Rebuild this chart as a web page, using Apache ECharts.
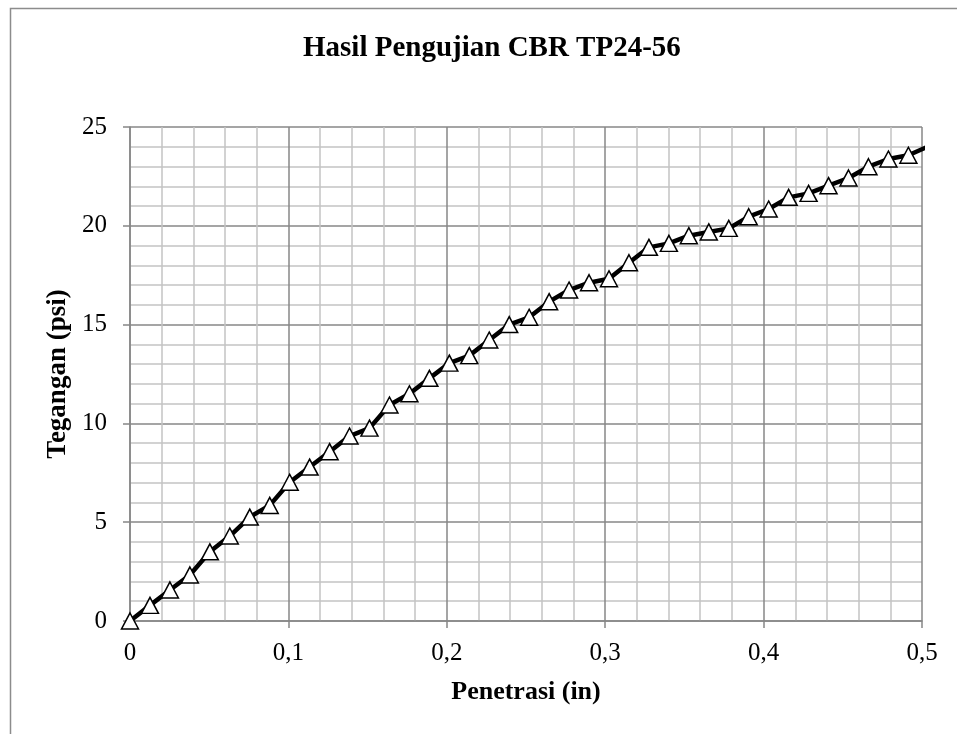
<!DOCTYPE html>
<html>
<head>
<meta charset="utf-8">
<script src="https://cdn.jsdelivr.net/npm/echarts@6/dist/echarts.min.js"></script>
<style>
html,body{margin:0;padding:0;background:#fff;}
#chart{width:957px;height:734px;}
</style>
</head>
<body>
<div id="chart"></div>
<script>
var chartTitle = 'Hasil Pengujian CBR TP24-56';
var xAxisTitle = 'Penetrasi (in)';
var yAxisTitle = 'Tegangan (psi)';

var penetrasi = [
  0, 0.0126, 0.0252, 0.0378, 0.0504, 0.063, 0.0756, 0.0882, 0.1008, 0.1134,
  0.126, 0.1386, 0.1512, 0.1638, 0.1764, 0.189, 0.2016, 0.2142, 0.2268, 0.2394,
  0.252, 0.2646, 0.2772, 0.2898, 0.3024, 0.315, 0.3276, 0.3402, 0.3528, 0.3654,
  0.378, 0.3906, 0.4032, 0.4158, 0.4284, 0.441, 0.4536, 0.4662, 0.4788, 0.4914,
  0.504
];
var tegangan = [
  0, 0.79, 1.57, 2.33, 3.5, 4.3, 5.26, 5.85, 7.02, 7.79,
  8.57, 9.36, 9.76, 10.93, 11.5, 12.28, 13.05, 13.43, 14.22, 15.0,
  15.37, 16.16, 16.75, 17.12, 17.32, 18.13, 18.91, 19.11, 19.5, 19.69,
  19.87, 20.46, 20.85, 21.44, 21.64, 22.03, 22.42, 22.99, 23.38, 23.57,
  24.02
];
var xTickLabels = ['0', '0,1', '0,2', '0,3', '0,4', '0,5'];
var yTickLabels = ['0', '5', '10', '15', '20', '25'];

var seriesData = [];
for (var i = 0; i < penetrasi.length; i++) {
  seriesData.push([penetrasi[i], tegangan[i]]);
}

var FONT = '"Liberation Serif", "Times New Roman", serif';
var MAJOR = '#878787';
var MINOR = '#c4c4c4';

var chart = echarts.init(document.getElementById('chart'), null, {renderer: 'canvas'});
chart.setOption({
  backgroundColor: '#ffffff',
  animation: false,
  title: {
    text: chartTitle,
    left: 298,
    top: 29,
    textStyle: {fontFamily: FONT, fontSize: 29, fontWeight: 'bold', color: '#000'}
  },
  graphic: [{
    type: 'rect',
    left: 8, top: 6,
    shape: {width: 1000, height: 1000},
    style: {fill: 'none', stroke: '#8c8c8c', lineWidth: 1.5},
    silent: true
  }],
  grid: {left: 130, right: 35, top: 127, bottom: 113, containLabel: false},
  xAxis: {
    type: 'value',
    min: 0, max: 0.5, interval: 0.1,
    name: xAxisTitle,
    nameLocation: 'middle',
    nameGap: 58,
    nameTextStyle: {fontFamily: FONT, fontSize: 26, fontWeight: 'bold', color: '#000'},
    axisLine: {show: true, onZero: false, lineStyle: {color: MAJOR, width: 1.5}},
    axisTick: {show: true, inside: false, length: 7, lineStyle: {color: MAJOR, width: 1.5}},
    minorTick: {show: false, splitNumber: 5},
    axisLabel: {
      margin: 20,
      fontFamily: FONT, fontSize: 25, color: '#000',
      formatter: function (v) { return xTickLabels[Math.round(v * 10)]; }
    },
    splitLine: {show: true, lineStyle: {color: MAJOR, width: 1.5}},
    minorSplitLine: {show: true, lineStyle: {color: MINOR, width: 1.5}}
  },
  yAxis: {
    type: 'value',
    min: 0, max: 25, interval: 5,
    name: yAxisTitle,
    nameLocation: 'middle',
    nameGap: 58,
    nameRotate: 90,
    nameTextStyle: {fontFamily: FONT, fontSize: 27, fontWeight: 'bold', color: '#000'},
    axisLine: {show: true, lineStyle: {color: MAJOR, width: 1.5}},
    axisTick: {show: true, inside: false, length: 7, lineStyle: {color: MAJOR, width: 1.5}},
    minorTick: {show: false, splitNumber: 5},
    axisLabel: {
      margin: 23,
      fontFamily: FONT, fontSize: 25, color: '#000',
      formatter: function (v) { return yTickLabels[Math.round(v / 5)]; }
    },
    splitLine: {show: true, lineStyle: {color: MAJOR, width: 1.5}},
    minorSplitLine: {show: true, lineStyle: {color: MINOR, width: 1.5}}
  },
  series: [{
    type: 'line',
    data: seriesData,
    clip: true,
    symbol: 'triangle',
    symbolSize: [17, 16],
    showAllSymbol: true,
    itemStyle: {color: '#ffffff', borderColor: '#000000', borderWidth: 1.5},
    lineStyle: {color: '#000000', width: 4.5},
    emphasis: {disabled: true}
  }]
});
</script>
</body>
</html>
